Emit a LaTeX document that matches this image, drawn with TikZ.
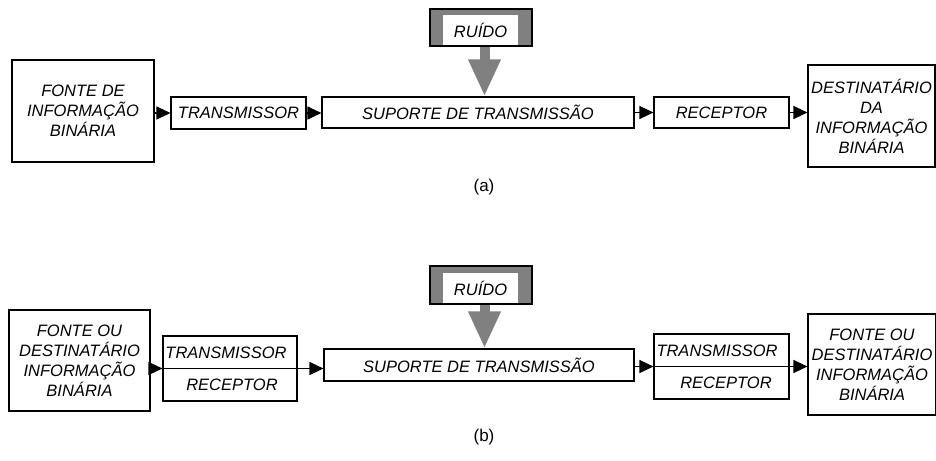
\documentclass[tikz,border=0pt]{standalone}
\usepackage{fontspec}
\setmainfont{Liberation Sans}
\usetikzlibrary{arrows.meta}

\begin{document}
\begin{tikzpicture}[x=1pt,y=-1pt]
	\tikzstyle{every node}+=[inner sep=0pt, font=\fontsize{16.5}{20}\selectfont\itshape]
	\tikzstyle{bloco}=[draw=black, line width=1.1pt, align=center]
	\tikzstyle{ruidofundo}=[draw=black, line width=1.1pt, fill=gray, minimum width=102pt, minimum height=37pt]
	\tikzstyle{ruidotexto}=[fill=white, minimum width=75pt, minimum height=30pt]
	\tikzstyle{seta}=[line width=1.1pt, -{Triangle[length=14pt,width=13pt]}]
	\tikzstyle{setaruido}=[draw=gray, line width=10pt, -{Triangle[length=37pt,width=30pt]}]
	\tikzstyle{legenda}=[font=\fontsize{17}{20}\selectfont\upshape]
	\useasboundingbox (0,0) rectangle (936,460);
	% (a)
	\node[bloco, minimum width=142pt, minimum height=102pt] (fonteA) at (83,111) {FONTE DE\\INFORMAÇÃO\\BINÁRIA};
	\node[bloco, minimum width=135pt, minimum height=32pt] (trA) at (238.5,113) {TRANSMISSOR};
	\node[bloco, minimum width=312pt, minimum height=31pt] (supA) at (478,112.5) {SUPORTE DE TRANSMISSÃO};
	\node[bloco, minimum width=135pt, minimum height=31pt] (recA) at (721.5,112.5) {RECEPTOR};
	\node[bloco, minimum width=127pt, minimum height=102pt] (destA) at (871.5,116) {DESTINATÁRIO\\DA\\INFORMAÇÃO\\BINÁRIA};
	\node[ruidofundo] (ruidoA) at (481,27.5) {};
	\node[ruidotexto] (ruidoAt) at (480.5,30) {RUÍDO};
	\node[legenda] (legA) at (484,187) {(a)};
	\draw[seta] (fonteA.east |- trA) -- (trA.west);
	\draw[seta] (trA.east) -- (trA.east -| supA.west);
	\draw[seta] (supA.east) -- (recA.west);
	\draw[seta] (recA.east) -- (recA.east -| destA.west);
	\draw[setaruido] ([xshift=3.5pt]ruidoA.south) -- ([xshift=3.5pt]ruidoA.south |- supA.north);
	% (b)
	\node[bloco, minimum width=141pt, minimum height=101pt] (fonteB) at (79.5,360.5) {FONTE OU\\DESTINATÁRIO\\INFORMAÇÃO\\BINÁRIA};
	\node[bloco, minimum width=134pt, minimum height=65pt] (trB) at (230,368.5) {};
	\node (trBt) at (226,353) {TRANSMISSOR};
	\node (trBr) at (232,385) {RECEPTOR};
	\node[bloco, minimum width=310pt, minimum height=32pt] (supB) at (479,365) {SUPORTE DE TRANSMISSÃO};
	\node[bloco, minimum width=135pt, minimum height=65pt] (trC) at (721.5,366.5) {};
	\node (trCt) at (717,351) {TRANSMISSOR};
	\node (trCr) at (726,383) {RECEPTOR};
	\node[bloco, minimum width=128pt, minimum height=101pt] (fonteC) at (872,364.5) {FONTE OU\\DESTINATÁRIO\\INFORMAÇÃO\\BINÁRIA};
	\node[ruidofundo, minimum height=38pt] (ruidoB) at (481,285) {};
	\node[ruidotexto] (ruidoBt) at (480.5,288) {RUÍDO};
	\node[legenda] (legB) at (484,437) {(b)};
	\draw[line width=1.1pt] (trB.west) -- (trB.east);
	\draw[line width=1.1pt] (trC.west) -- (trC.east);
	\draw[seta] (fonteB.east |- trB) -- (trB.west);
	\draw[seta] (trB.east) -- (trB.east -| supB.west);
	\draw[seta] (supB.east |- trC) -- (trC.west);
	\draw[seta] (trC.east) -- (trC.east -| fonteC.west);
	\draw[setaruido] ([xshift=3.5pt]ruidoB.south) -- ([xshift=3.5pt]ruidoB.south |- supB.north);
\end{tikzpicture}
\end{document}
